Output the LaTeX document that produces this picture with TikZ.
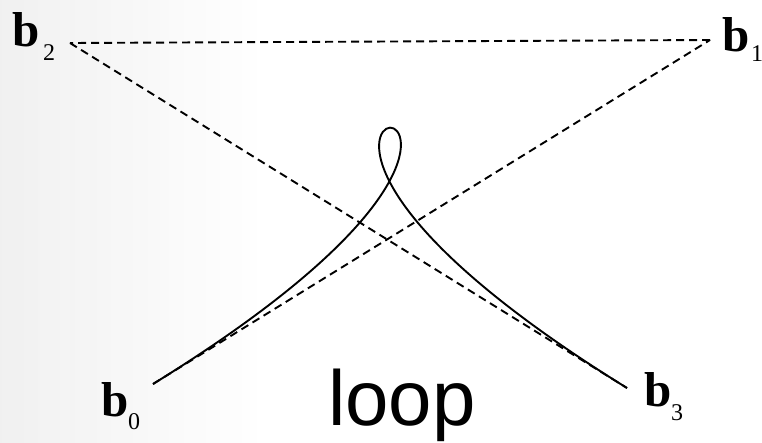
\documentclass[tikz,border=0pt]{standalone}
\usepackage{fontspec}
\setmainfont{Liberation Serif}
\newfontfamily\loopfont{Liberation Sans}
\begin{document}
\begin{tikzpicture}[x=1pt,y=-1pt,
  ctrl/.style={line width=1.9pt,dash pattern=on 8pt off 5pt},
  curve/.style={line width=1.9pt},
  lbl/.style={anchor=base west,inner sep=0pt,font=\fontsize{49}{49}\selectfont\bfseries},
  sub/.style={anchor=base west,inner sep=0pt,font=\fontsize{24}{24}\selectfont}]
\useasboundingbox (0,0) rectangle (762,442);
\shade[left color=black!14,right color=white] (0,0) rectangle (260,442);
\shade[top color=white!0,bottom color=white,opacity=0.6] (0,0) rectangle (260,442);
\coordinate (b0) at (153,384);
\coordinate (b1) at (710,40);
\coordinate (b2) at (70,43);
\coordinate (b3) at (627,388);
\draw[ctrl] (b0) -- (b1);
\draw[ctrl] (b1) -- (b2);
\draw[ctrl] (b2) -- (b3);
\draw[curve] (b0) .. controls (b1) and (b2) .. (b3);
\node[lbl] (l2) at (12,46) {b};
\node[sub] (s2) at (43,60) {2};
\node[lbl] (l1) at (722,51) {b};
\node[sub] (s1) at (751,61) {1};
\node[lbl] (l0) at (101,416) {b};
\node[sub] (s0) at (128,429) {0};
\node[lbl] (l3) at (644,406) {b};
\node[sub] (s3) at (671,420) {3};
\node[anchor=base,inner sep=0pt,font=\loopfont\fontsize{78}{78}\selectfont] (loop) at (402,425) {loop};
\end{tikzpicture}
\end{document}
